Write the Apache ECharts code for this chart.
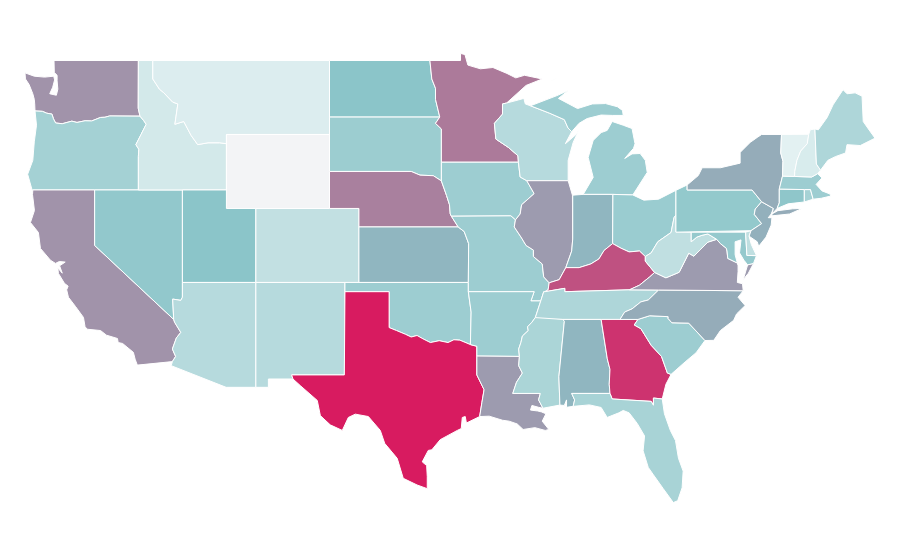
<!DOCTYPE html>
<html><head><meta charset="utf-8">
<script src="https://cdn.jsdelivr.net/npm/echarts@6/dist/echarts.min.js"></script>
<style>html,body{margin:0;background:#fff}#c{width:900px;height:560px}</style></head>
<body><div id="c"></div>
<script>
const stateNames=["Washington","Oregon","California","Nevada","Idaho","Montana","Wyoming","Utah","Arizona","Colorado","New Mexico","North Dakota","South Dakota","Nebraska","Kansas","Oklahoma","Texas","Minnesota","Iowa","Missouri","Arkansas","Louisiana","Wisconsin","Illinois","Michigan","Indiana","Ohio","Kentucky","Tennessee","Mississippi","Alabama","Georgia","Florida","South Carolina","North Carolina","Virginia","West Virginia","Maryland","Delaware","Pennsylvania","New Jersey","New York","Connecticut","Rhode Island","Massachusetts","Vermont","New Hampshire","Maine"];
const stateValues=[64.5,39,64.5,46.5,19,15,null,49.5,31,26,31,49.5,42.5,70,54,42,100,72,42,42,42,62,31,62,42,54,43,84,34.5,36,54,93,37,42,57,62,27,45.5,27,46,56,57,48,38,42,12,16.5,34.5];
const rev=a=>a.slice().reverse();
// shared borders (longitude, latitude)
const orWa=[[-116.92,45.99],[-118.98,46.0],[-119.3,45.93],[-119.6,45.92],[-120.2,45.73],[-120.65,45.74],[-121.2,45.65],[-121.55,45.72],[-122.2,45.58],[-122.65,45.62],[-122.8,45.85],[-122.9,46.1],[-123.25,46.15],[-123.55,46.25],[-124.05,46.27]];
const idOr=[[-116.92,45.99],[-116.67,45.75],[-116.5,45.55],[-116.85,45.0],[-117.2,44.45],[-117.0,44.2],[-117.03,43.8],[-117.03,42]];
const mtId=[[-116.05,49],[-116.05,48],[-115.6,47.45],[-115.3,47.25],[-114.7,46.75],[-114.35,46.65],[-114.55,45.55],[-113.95,45.7],[-113.45,44.95],[-113,44.45],[-112.3,44.55],[-111.5,44.55],[-111.05,44.5]];
const colorado=[[-114.63,35],[-114.57,34.85],[-114.15,34.3],[-114.45,34],[-114.72,33.4],[-114.5,33],[-114.72,32.72]];
const nvAz=[[-114.04,37],[-114.04,36.2],[-114.15,36.03],[-114.7,36.1],[-114.63,35]];
const red=[[-94.48,33.64],[-95.2,33.88],[-95.6,33.9],[-96,33.75],[-96.6,33.85],[-97.2,33.75],[-97.7,33.95],[-98.1,34.13],[-98.5,34.05],[-98.9,34.2],[-99.5,34.4],[-100,34.56]];
const redN=[[-96.45,45.3],[-96.85,45.6],[-96.56,45.94],[-96.85,46.9],[-96.85,47.5],[-97.1,48],[-97.23,49]];
const sdNe=[[-104.05,43],[-98.5,43],[-97.9,42.8],[-97,42.77],[-96.45,42.49]];
const neIa=[[-96.45,42.49],[-96.1,41.7],[-95.9,41.2],[-95.85,40.7],[-95.77,40.58]];
const neMoKs=[[-95.77,40.58],[-95.31,40]];
const ksMo=[[-95.31,40],[-94.9,39.75],[-94.6,39.1],[-94.62,37]];
const mnWi=[[-92.02,46.7],[-92.3,46.65],[-92.3,46.1],[-92.85,45.6],[-92.75,44.75],[-91.9,44.3],[-91.25,43.85],[-91.22,43.5]];
const iaWi=[[-91.22,43.5],[-91.1,42.7],[-90.65,42.5]];
const iaIl=[[-90.65,42.5],[-90.15,41.8],[-91,41.2],[-91.1,40.7],[-91.42,40.38]];
const moIl=[[-91.42,40.38],[-91.5,40],[-91,39.4],[-90.7,39],[-90.2,38.75],[-90.2,38.4],[-89.6,38],[-89.5,37.3],[-89.13,36.98]];
const moKy=[[-89.13,36.98],[-89.2,36.6],[-89.42,36.5]];
const moTn=[[-89.42,36.5],[-89.5,36.5],[-89.7,36]];
const arMo=[[-94.62,36.5],[-90.15,36.5],[-90.37,36],[-89.7,36]];
const arTn=[[-89.7,36],[-90.07,35.1]];
const arMs=[[-90.07,35.1],[-90.3,34.85],[-90.6,34.6],[-90.55,34.4],[-90.95,34.1],[-91.05,33.75],[-91.2,33.4],[-91.15,33]];
const laMs=[[-91.15,33],[-91.2,32.5],[-90.95,32.1],[-91.35,31.6],[-91.6,31],[-89.73,31],[-89.85,30.65],[-89.55,30.2]];
const arOk=[[-94.62,36.5],[-94.43,35.4],[-94.48,33.64]];
const arLaTx=[[-94.04,33.02],[-94.04,33.55],[-94.48,33.64]];
const laTx=[[-94.04,33.02],[-94.04,32],[-93.55,31.2],[-93.7,30.5],[-93.85,29.75]];
const msAl=[[-88.2,35],[-88.1,34.9],[-88.47,31.9],[-88.4,30.37]];
const alGa=[[-85.6,35],[-85.18,32.87],[-85,32.3],[-85.05,31.5],[-85,31]];
const gaFl=[[-85,31],[-84.85,30.7],[-82.2,30.57],[-82.05,30.36],[-82.05,30.75],[-81.45,30.7]];
const gaSc=[[-83.1,35],[-83.35,34.7],[-82.9,34.5],[-82.2,33.6],[-81.5,33],[-81.1,32.1],[-80.85,32.03]];
const ncSc=[[-83.1,35],[-82.3,35.2],[-81.05,35.15],[-81.05,35.05],[-80.8,34.82],[-79.65,34.8],[-78.55,33.86]];
const ncTn=[[-84.32,35],[-84,35.4],[-83.5,35.57],[-82.9,35.95],[-82.4,36.05],[-81.7,36.59]];
const kyTn=[[-83.68,36.6],[-88.07,36.5],[-88.07,36.68],[-89.42,36.5]];
const kyVa=[[-83.68,36.6],[-83,36.85],[-82.3,37.3],[-81.97,37.54]];
const kyWv=[[-81.97,37.54],[-82.6,38.15],[-82.6,38.4]];
const ohKy=[[-82.6,38.4],[-83,38.7],[-83.7,38.65],[-84.25,38.85],[-84.82,39.1]];
const inKy=[[-84.82,39.1],[-85.4,38.73],[-85.75,38.27],[-86.3,38],[-87.1,37.8],[-88,37.8]];
const ilKy=[[-88,37.8],[-88.45,37.15],[-89.13,36.98]];
const ilIn=[[-87.53,41.72],[-87.53,39.35],[-87.6,38.7],[-88,37.8]];
const ohWv=[[-82.6,38.4],[-82.2,38.6],[-81.75,39.2],[-80.85,39.7],[-80.65,40.5],[-80.52,40.64]];
const vaWv=[[-81.97,37.54],[-81.2,37.25],[-80.3,37.55],[-79.65,38.58],[-79.3,38.42],[-78.87,38.77],[-78.35,39.18],[-77.75,39.33]];
const mdWv=[[-79.48,39.72],[-79.48,39.2],[-79.1,39.45],[-78.75,39.55],[-78.35,39.62],[-77.75,39.33]];
const mdVa=[[-77.75,39.33],[-77.5,39.1],[-77.1,38.85],[-77.05,38.7],[-77,38.3],[-76.35,38.05]];
const njPa=[[-74.7,41.36],[-75.13,40.97],[-75.2,40.68],[-74.7,40.18],[-75.42,39.8]];
const nyPa=[[-79.76,42.27],[-79.76,42],[-75.35,42],[-74.7,41.36]];
const vtNh=[[-71.5,45.01],[-71.6,44.5],[-72.05,44.1],[-72.3,43.6],[-72.45,43],[-72.46,42.73]];
const nhMe=[[-71.08,45.3],[-70.98,43.4],[-70.7,43.07]];
const nyVt=[[-73.35,45],[-73.4,44],[-73.25,43.55],[-73.28,42.75]];
const miOh=[[-84.8,41.76],[-83.45,41.73]];
const upWi=[[-90.4,46.55],[-89.1,46.15],[-88.1,45.8],[-87.85,45.35],[-87.6,45.15]];
// state outlines, each a list of rings
const shapes={
"Washington":[[[-122.76,49],[-117.03,49],[-117.04,46.42],...orWa,[-124.07,46.65],[-124.1,46.9],[-124.2,47.2],[-124.45,47.7],[-124.7,48],[-124.73,48.33],[-124.1,48.15],[-123.4,48.1],[-122.78,48.15],[-122.72,47.95],[-122.85,47.55],[-123.05,47.2],[-122.6,47.12],[-122.5,47.45],[-122.55,47.9],[-122.55,48.2],[-122.74,48.35]]],
"Oregon":[[...rev(orWa),...idOr,[-120,42],[-124.25,42],[-124.55,42.85],[-124.2,43.6],[-124.1,44.6],[-123.95,45.5]]],
"California":[[[-124.2,42],[-120,42],[-120,39],...colorado,[-117.1,32.53],[-117.25,32.85],[-117.37,33.22],[-118.1,33.7],[-118.4,33.75],[-118.45,33.97],[-119.2,34.15],[-119.6,34.4],[-120.49,34.47],[-120.65,34.6],[-120.76,35.11],[-121.3,35.7],[-121.78,36.2],[-121.9,36.6],[-121.8,36.8],[-122.05,36.95],[-122.46,37.49],[-122.5,37.78],[-122.2,37.5],[-122.38,37.9],[-122,38.1],[-122.4,38.13],[-122.66,38.03],[-123,38.2],[-123.68,38.84],[-123.82,39.7],[-124.36,40.24],[-124.09,40.89],[-124.22,41.75]]],
"Nevada":[[[-120,42],[-114.04,42],...nvAz,[-120,39]]],
"Idaho":[[[-117.03,49],...mtId,[-111.05,42],[-117.03,42],...rev(idOr),[-117.04,46.42]]],
"Montana":[[...mtId,[-111.05,45],[-104.05,45],[-104.05,49]]],
"Wyoming":[[[-111.05,45],[-104.05,45],[-104.05,41],[-111.05,41]]],
"Utah":[[[-114.04,42],[-111.05,42],[-111.05,41],[-109.05,41],[-109.05,37],[-114.04,37]]],
"Arizona":[[...nvAz,...colorado,[-114.8,32.5],[-111.07,31.33],[-109.05,31.33],[-109.05,37]]],
"Colorado":[[[-109.05,41],[-102.05,41],[-102.05,37],[-109.05,37]]],
"New Mexico":[[[-109.05,37],[-103,37],[-103.04,32],[-106.62,32],[-106.53,31.78],[-108.2,31.78],[-108.2,31.33],[-109.05,31.33]]],
"North Dakota":[[[-104.05,49],[-97.23,49],[-97.1,48],[-96.85,47.5],[-96.85,46.9],[-96.56,45.94],[-104.05,45.94]]],
"South Dakota":[[[-104.05,45.94],[-96.56,45.94],[-96.85,45.6],[-96.45,45.3],[-96.45,42.49],[-97,42.77],[-97.9,42.8],[-98.5,43],[-104.05,43]]],
"Nebraska":[[...sdNe,...neIa,...neMoKs,[-102.05,40],[-102.05,41],[-104.05,41]]],
"Kansas":[[[-102.05,40],...ksMo,[-102.05,37]]],
"Oklahoma":[[[-103,37],[-94.62,37],...arOk,...red,[-100,36.5],[-103,36.5]]],
"Texas":[[[-103,36.5],[-100,36.5],...rev(red),...rev(arLaTx),...laTx,[-93.81,29.8],[-94.75,29.4],[-94.83,29.75],[-95.03,29.7],[-95.1,29.1],[-95.37,29],[-96.53,28.5],[-97.1,27.95],[-97.34,27.92],[-97.75,27.3],[-97.45,27.1],[-97.41,26.5],[-97.41,25.85],[-98.1,26.05],[-99.04,26.41],[-99.45,27.49],[-100.3,28.3],[-100.6,29],[-101.41,29.75],[-102.3,29.88],[-102.77,29.7],[-103.18,29],[-104,29.3],[-104.67,29.8],[-104.88,30.62],[-106,31.4],[-106.53,31.78],[-106.62,32],[-103.04,32]]],
"Minnesota":[[[-97.23,49],[-95.15,49],[-95.15,49.38],[-94.85,49.32],[-94.65,48.75],[-93.8,48.55],[-92.95,48.62],[-92,48.3],[-91.4,48.06],[-90.8,48.2],[-89.6,48],[-90.7,47.65],...mnWi,[-96.45,43.5],...redN.slice(0,-1)]],
"Iowa":[[[-96.45,43.5],[-91.22,43.5],...iaWi,...iaIl,[-91.73,40.6],...rev(neIa)]],
"Missouri":[[[-95.77,40.58],[-91.73,40.6],...moIl,...moKy,...moTn,...rev(arMo),...rev(ksMo),...rev(neMoKs)]],
"Arkansas":[[...arMo,...arTn,...arMs,...arLaTx,...rev(arOk)]],
"Louisiana":[[[-94.04,33.02],...laMs,[-89.85,30.25],[-90.3,30.35],[-90.4,30.1],[-89.9,30.05],[-89.65,30],[-89.35,29.9],[-89.6,29.5],[-89.15,29.05],[-89.4,29],[-90.1,29.15],[-90.9,29.05],[-91.3,29.35],[-91.85,29.5],[-92.3,29.55],[-93.2,29.77],[-93.85,29.75],[-93.7,30.5],[-93.55,31.2],[-94.04,32]]],
"Wisconsin":[[[-92.02,46.7],[-91.2,46.87],[-90.85,46.95],[-90.75,46.65],...upWi,[-88.03,44.5],[-87.3,45],[-87.1,45.25],[-87.5,44.57],[-87.84,43.6],[-87.84,42.5],...rev(iaWi),...rev(mnWi)]],
"Illinois":[[[-90.65,42.5],[-87.84,42.5],[-87.55,41.72],...ilIn.slice(1),...ilKy,...rev(moIl),...rev(iaIl)]],
"Michigan":[[[-86.82,41.76],...miOh,[-83.15,42.1],[-82.47,42.95],[-82.6,43.6],[-82.95,43.97],[-83.5,43.95],[-84,43.7],[-83.4,44.25],[-83.3,44.5],[-83.5,45.32],[-84.1,45.5],[-84.85,45.7],[-85.19,45.22],[-85.6,45.1],[-86.14,44.68],[-86.48,43.76],[-86.14,42.68]],[[-90.4,46.55],[-88.6,47.1],[-87.83,47.38],[-88.5,46.95],[-87.2,46.4],[-86.2,46.65],[-85.3,46.67],[-84.5,46.5],[-84.15,46.3],[-84.1,46.03],[-84.85,46.03],[-85.6,46.05],[-86.55,45.86],[-87.1,45.6],...rev(upWi)],[[-89.1,47.85],[-88.6,48.05],[-88.85,47.95]]],
"Indiana":[[[-87.53,41.72],[-86.82,41.76],[-84.8,41.76],[-84.82,39.1],...inKy.slice(1),...rev(ilIn).slice(1)]],
"Ohio":[[...miOh,[-82.7,41.45],[-81.7,41.5],[-80.52,41.98],...rev(ohWv),...ohKy.slice(1)]],
"Kentucky":[[...kyVa,...kyWv,...ohKy.slice(1),...inKy.slice(1),...ilKy.slice(1),...moKy.slice(1),...rev(kyTn).slice(1)]],
"Tennessee":[[...kyTn,...moTn.slice(1),...arTn.slice(1),[-90.07,35],[-88.2,35],[-85.6,35],...ncTn,[-83.68,36.6]]],
"Mississippi":[[...arMs,...laMs.slice(1),[-88.4,30.37],...rev(msAl)]],
"Alabama":[[...msAl,[-88.1,30.35],[-87.95,30.65],[-87.95,30.25],[-87.5,30.3],[-87.4,30.65],[-87.6,31],...rev(alGa)]],
"Georgia":[[...alGa,...gaFl.slice(1),[-81.2,31.5],...rev(gaSc),[-84.32,35]]],
"Florida":[[[-87.6,31],...gaFl,[-81.3,29.9],[-80.9,29],[-80.55,28.45],[-80.35,27.5],[-80.03,26.8],[-80.1,25.9],[-80.4,25.2],[-80.7,25.1],[-81.39,25.86],[-82.05,26.6],[-82.4,27],[-82.75,27.9],[-82.65,28.7],[-83.15,29.38],[-83.7,29.95],[-84.1,30.08],[-84.4,29.95],[-85.19,29.7],[-85.6,30.24],[-86.4,30.38],[-87.5,30.3],[-87.4,30.65]]],
"South Carolina":[[...ncSc,[-79.15,33.2],[-79.9,32.7],...rev(gaSc)]],
"North Carolina":[[...ncTn,[-75.95,36.55],[-76.3,36.2],[-75.82,35.75],[-76.4,35.3],[-76.6,34.95],[-77.5,34.4],[-77.95,33.87],...rev(ncSc),[-84.32,35]]],
"Virginia":[[...kyVa,...vaWv,...mdVa,[-76.3,37.9],[-76.3,37.6],[-76.35,37],[-76,36.93],[-75.95,36.55],[-81.7,36.59]],[[-75.25,38.03],[-75.65,37.95],[-75.95,37.15],[-75.6,37.5]]],
"West Virginia":[[[-80.52,40.64],[-80.52,39.72],...mdWv,...rev(vaWv),...kyWv,...ohWv.slice(1)]],
"Maryland":[[...mdWv,...mdVa,[-76.5,38.5],[-76.5,39.2],[-76.1,39.3],[-76.2,38.6],[-75.9,38.2],[-75.65,37.95],[-75.25,38.03],[-75.05,38.45],[-75.7,38.46],[-75.79,39.72]]],
"Delaware":[[[-75.79,39.72],[-75.42,39.8],[-75.55,39.5],[-75.4,39.05],[-75.05,38.45],[-75.7,38.46]]],
"Pennsylvania":[[[-80.52,41.98],...nyPa,...njPa.slice(1),[-80.52,39.72]]],
"New Jersey":[[[-73.9,41],...njPa,[-75.55,39.5],[-75,39.2],[-74.9,38.95],[-74.4,39.45],[-74.05,40.1],[-74,40.5],[-74.25,40.5],[-74.05,40.7]]],
"New York":[[...nyPa,[-73.9,41],[-74,40.7],[-73.65,41],[-73.5,41.3],[-73.5,42.05],...rev(nyVt),[-74.7,45],[-75,44.84],[-75.48,44.57],[-76.16,44.03],[-76.16,43.45],[-77.5,43.2],[-78.74,43.2],[-79,42.78]],[[-74,40.6],[-72.8,40.7],[-71.95,41],[-72.6,40.98],[-73.6,40.88],[-74,40.7]]],
"Connecticut":[[[-73.5,42.05],[-71.8,42.02],[-71.8,41.35],[-72.9,41.25],[-73.65,41],[-73.5,41.3]]],
"Rhode Island":[[[-71.8,42.02],[-71.38,42.02],[-71.2,41.5],[-71.8,41.35]]],
"Massachusetts":[[[-73.5,42.05],[-73.28,42.75],[-72.46,42.73],[-71.3,42.7],[-70.9,42.88],[-70.6,42.65],[-71,42.3],[-70.6,41.95],[-70.05,41.78],[-70,41.67],[-70.65,41.55],[-71.2,41.5],[-71.38,42.02],[-71.8,42.02]]],
"Vermont":[[[-73.35,45],...vtNh,[-73.28,42.75],...rev(nyVt).slice(1)]],
"New Hampshire":[[...vtNh,[-71.3,42.7],[-70.9,42.88],...rev(nhMe),[-71.4,45.25]]],
"Maine":[[...nhMe,[-70.2,43.6],[-69.7,43.8],[-69,44],[-68.9,44.45],[-68,44.4],[-67,44.8],[-67.45,45.3],[-67.8,45.7],[-67.88,47.07],[-68.35,47.25],[-68.9,47.2],[-69.17,47.42],[-69.85,46.6],[-70.25,45.92],[-70.85,45.25]]]
};
const features=stateNames.map(name=>({type:"Feature",properties:{name},geometry:{type:"MultiPolygon",coordinates:shapes[name].map(r=>[r])}}));
echarts.registerMap("USA",{type:"FeatureCollection",features});
const chart=echarts.init(document.getElementById("c"),null,{renderer:"canvas"});
chart.setOption({
  animation:false,backgroundColor:"#fff",
  visualMap:{show:false,min:0,max:100,inRange:{color:["#ffffff","#8ac4c8","#d81b60"]}},
  series:[{type:"map",map:"USA",roam:false,aspectScale:0.796,layoutCenter:[450,278],layoutSize:850,
    label:{show:false},itemStyle:{areaColor:"#f3f4f6",borderColor:"#fff",borderWidth:1},
    data:stateNames.map((name,i)=>({name,value:stateValues[i]})).filter(d=>d.value!==null)}]
});
</script></body></html>
